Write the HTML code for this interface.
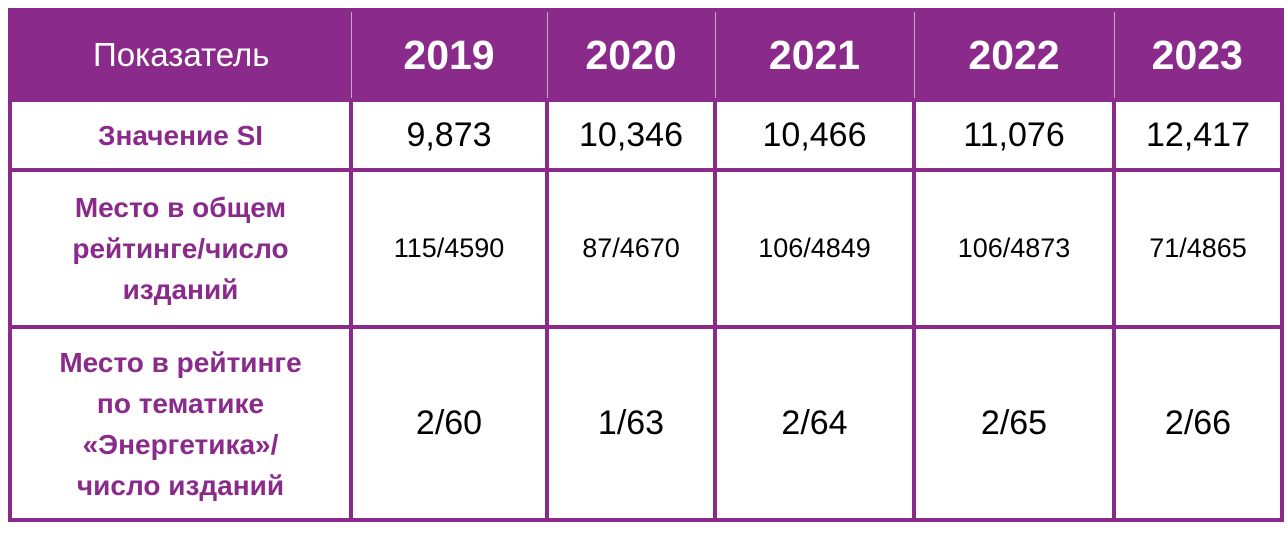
<!DOCTYPE html>
<html><head><meta charset="utf-8"><style>
body{margin:0;width:1288px;height:536px;background:#fff;overflow:hidden;font-family:"Liberation Sans",sans-serif}
table{position:absolute;left:8px;top:8px;border-collapse:collapse;table-layout:fixed}
td,th{border:4px solid #8a2b8c;text-align:center;vertical-align:middle;padding:0}
th{background:#8a2b8c;color:#fff;border-left:1px solid #c9a7ca;border-right:1px solid #c9a7ca;height:86px}
th:first-child{border-left:4px solid #8a2b8c}th:last-child{border-right:4px solid #8a2b8c}
th.lbl{font-weight:normal;font-size:33px}
th.yr{font-size:41px;font-weight:bold}
td.lbl{color:#8a2b8c;font-weight:bold;font-size:28px;line-height:41px}
td.v{font-size:34px;color:#000}
td.s{font-size:27px;color:#000}
</style></head><body>
<table>
<colgroup><col style="width:341px"><col style="width:196px"><col style="width:168px"><col style="width:199px"><col style="width:200px"><col style="width:168px"></colgroup>
<tr>
<th class="lbl">Показатель</th>
<th class="yr">2019</th>
<th class="yr">2020</th>
<th class="yr">2021</th>
<th class="yr">2022</th>
<th class="yr">2023</th>
</tr>
<tr style="height:70px">
<td class="lbl">Значение SI</td>
<td class="v">9,873</td>
<td class="v">10,346</td>
<td class="v">10,466</td>
<td class="v">11,076</td>
<td class="v">12,417</td>
</tr>
<tr style="height:157px">
<td class="lbl">Место в общем<br>рейтинге/число<br>изданий</td>
<td class="s">115/4590</td>
<td class="s">87/4670</td>
<td class="s">106/4849</td>
<td class="s">106/4873</td>
<td class="s">71/4865</td>
</tr>
<tr style="height:193px">
<td class="lbl">Место в рейтинге<br>по тематике<br>«Энергетика»/<br>число изданий</td>
<td class="v">2/60</td>
<td class="v">1/63</td>
<td class="v">2/64</td>
<td class="v">2/65</td>
<td class="v">2/66</td>
</tr>
</table>
</body></html>
